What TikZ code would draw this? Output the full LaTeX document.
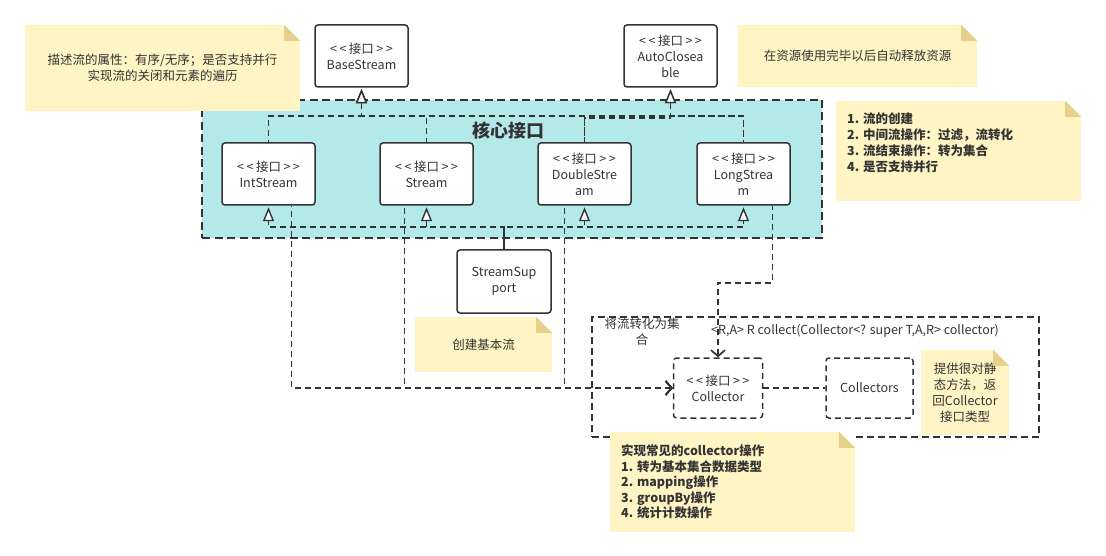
\documentclass[tikz,border=0pt]{standalone}
\usepackage{fontspec}
\setmainfont{Noto Sans CJK SC}
\usetikzlibrary{arrows.meta}
\definecolor{notefill}{HTML}{FFF4C3}
\definecolor{foldcol}{HTML}{E6D08A}
\definecolor{grpfill}{HTML}{B4E9E9}
\definecolor{ink}{HTML}{333333}
\newcommand\fsz{\fontsize{12.5}{16}\selectfont}
\newcommand\ifc{<\kern2.5pt<\kern2.5pt接口\kern2.5pt>\kern2.5pt>}
\newcommand\notefold[1]{%
  \fill[white] (#1.north east) ++(-16,0) -- ++(16,0) -- ++(0,16) -- cycle;
  \fill[foldcol] (#1.north east) ++(-16,0) -- ++(16,16) -- ++(-16,0) -- cycle;}
\tikzset{
  box/.style={draw=ink, line width=1.5pt, rounded corners=3pt, fill=white, text=ink,
    font=\fsz, align=center, inner sep=0pt, minimum width=93pt, minimum height=62pt},
  dbox/.style={box, dash pattern=on 6pt off 4pt},
  notebox/.style={fill=notefill, inner sep=0pt, text=ink, font=\fsz, align=center},
  txt/.style={text=ink, font=\fsz, inner sep=0pt},
  conn/.style={draw=ink, line width=1.7pt, dash pattern=on 6pt off 4pt},
  inh/.style={conn, shorten <=1.5pt, {Triangle[length=14pt,width=11pt,fill=white,line width=1.4pt]}-},
  inhb/.style={conn, shorten >=1.5pt, -{Triangle[length=14pt,width=11pt,fill=white,line width=1.4pt]}},
  dep/.style={conn, {Straight Barb[length=6pt,width=14pt,line width=1.7pt]}-},
}
\begin{document}
\begin{tikzpicture}[x=1pt,y=-1pt]
\useasboundingbox (0,0) rectangle (1106,556);
\fill[white] (0,0) rectangle (1106,556);

% group
\node[draw=ink, fill=grpfill, line width=1.8pt, dash pattern=on 8pt off 4.5pt,
  minimum width=620pt, minimum height=138pt, inner sep=0pt] (grp) at (512,169) {};
\node[txt, font=\fontsize{18}{20}\selectfont\bfseries] (gtitle) at (508,131) {核心接口};

% collect frame
\node[draw=ink, line width=1.6pt, dash pattern=on 7pt off 4pt,
  minimum width=447pt, minimum height=120pt, inner sep=0pt] (frame) at (815.5,377) {};
\node[txt, align=center] (flabel) at (642,331.5) {将流转化为集\\合};
\node[txt, anchor=west] (mlabel) at (711,331) {<R,A> R collect(Collector<? super T,A,R> collector)};

% notes
\node[notebox, minimum width=275pt, minimum height=86pt] (n1) at (162.5,68)
  {描述流的属性：有序/无序；是否支持并行\\实现流的关闭和元素的遍历};
\notefold{n1}
\node[notebox, minimum width=239pt, minimum height=62pt] (n2) at (857.5,56)
  {在资源使用完毕以后自动释放资源};
\notefold{n2}
\node[notebox, minimum width=245pt, minimum height=100pt] (n3) at (958.5,151) {};
\notefold{n3}
\node[txt, anchor=west, align=left, font=\fsz\bfseries] (t3) at (847,143)
  {1. 流的创建\\2. 中间流操作：过滤，流转化\\3. 流结束操作：转为集合\\4. 是否支持并行};
\node[notebox, minimum width=137pt, minimum height=55pt] (n4) at (483.5,344.5) {创建基本流};
\notefold{n4}
\node[notebox, minimum width=88pt, minimum height=85pt] (n5) at (965,392.5)
  {提供很对静\\态方法，返\\回Collector\\接口类型};
\notefold{n5}
\node[notebox, minimum width=245pt, minimum height=100pt] (n6) at (732.5,482) {};
\notefold{n6}
\node[txt, anchor=west, align=left, font=\fontsize{12.5}{15.5}\selectfont\bfseries] (t6) at (621,482)
  {实现常见的collector操作\\1. 转为基本集合数据类型\\2. mapping操作\\3. groupBy操作\\4. 统计计数操作};

% boxes
\node[box] (base) at (361.5,56) {\ifc\\BaseStream};
\node[box] (auto) at (670.5,56) {\ifc\\AutoClosea\\ble};
\node[box] (int) at (268.5,174) {\ifc\\IntStream};
\node[box] (stream) at (426.5,174) {\ifc\\Stream};
\node[box] (double) at (584.5,174) {\ifc\\DoubleStre\\am};
\node[box] (long) at (743.5,174) {\ifc\\LongStrea\\m};
\node[box, minimum width=94pt, minimum height=63pt] (support) at (504,281.5) {StreamSup\\port};
\node[dbox, minimum width=89pt, minimum height=60pt] (collector) at (718,388) {\ifc\\Collector};
\node[dbox, minimum width=87pt, minimum height=60pt] (collectors) at (869.5,388) {Collectors};

% inheritance to BaseStream / AutoCloseable (drawn from the parent, so shared parts coincide)
\draw[inh] (base.south) -- ++(0,28) -| (int.north);
\draw[inh] (base.south) -- ++(0,28) -| (stream.north);
\draw[inh] (base.south) -- ++(0,28) -| (double.north);
\draw[inh] (base.south) -- ++(0,28) -| (long.north);
\draw[inh] (auto.south) -- ++(0,30) -| (double.north);
\draw[inh] (auto.south) -- ++(0,28) -| (long.north);

% StreamSupport to the four streams
\draw[inhb] (support.north) -- ++(0,-22) -| (int.south);
\draw[inhb] (support.north) -- ++(0,-22) -| (stream.south);
\draw[inhb, dash phase=5pt] (support.north) -- ++(0,-22) -| (double.south);
\draw[inhb, dash phase=5pt] (support.north) -- ++(0,-22) -| (long.south);

% streams to Collector (drawn from the Collector, so shared parts coincide)
\draw[dep] (collector.west) -| ([xshift=23pt]int.south);
\draw[dep] (collector.west) -| ([xshift=-22pt]stream.south);
\draw[dep] (collector.west) -| ([xshift=-20pt]double.south);
\draw[dep] (collector.north) |- ([xshift=29pt,yshift=-77pt]long.south) -- ([xshift=29pt]long.south);
\draw[conn] (collector.east) -- (collectors.west);
\end{tikzpicture}
\end{document}
